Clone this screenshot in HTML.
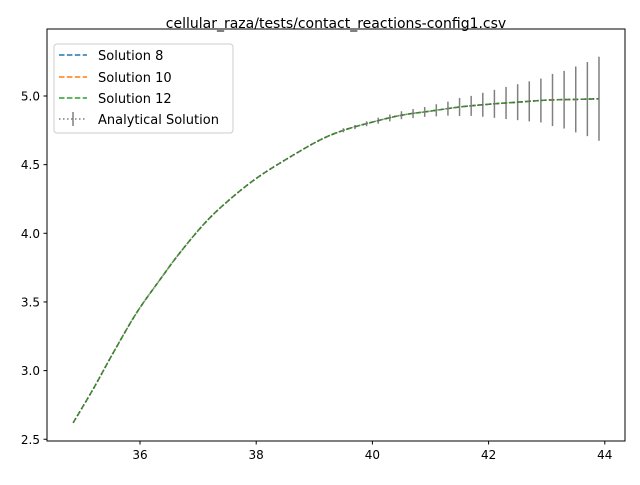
<!DOCTYPE html>
<html><head><meta charset="utf-8"><style>
body{margin:0;background:#fff}
svg{font-family:"DejaVu Sans","Liberation Sans",sans-serif}
</style></head><body>
<svg id="chart" width="640" height="480" xmlns="http://www.w3.org/2000/svg">
<rect width="640" height="480" fill="#fff"/>
<text x="336" y="28" font-size="14" text-anchor="middle">cellular_raza/tests/contact_reactions-config1.csv</text>
<g id="plot"></g>
<rect x="47" y="29" width="578" height="412" fill="none" stroke="#000" stroke-width="1"/>
<g>
<rect x="54" y="44" width="179" height="89" rx="3" fill="#fff" fill-opacity="0.8" stroke="#ccc"/>
<line x1="59" y1="55" x2="87" y2="55" stroke="#1f77b4" stroke-width="1.5" stroke-dasharray="5.5,2.4"/>
<text x="98" y="60" font-size="13">Solution 8</text>
<line x1="59" y1="77" x2="87" y2="77" stroke="#ff7f0e" stroke-width="1.5" stroke-dasharray="5.5,2.4"/>
<text x="98" y="82" font-size="13">Solution 10</text>
<line x1="59" y1="98" x2="87" y2="98" stroke="#2ca02c" stroke-width="1.5" stroke-dasharray="5.5,2.4"/>
<text x="98" y="103" font-size="13">Solution 12</text>
<line x1="59" y1="119" x2="87" y2="119" stroke="#808080" stroke-width="1.5" stroke-dasharray="1.5,2.5"/>
<line x1="73" y1="112" x2="73" y2="126" stroke="#808080" stroke-width="1.5"/>
<text x="98" y="124" font-size="13">Analytical Solution</text>
</g>
</svg>
<script>
const xVals=[34.85,35.2,35.54,35.94,36.34,36.69,37.15,37.61,38.07,38.64,39.1,39.5,40.0,40.5,41.0,41.5,42.0,42.5,43.0,43.5,43.9];
const yVals=[2.62,2.87,3.13,3.42,3.66,3.86,4.09,4.27,4.42,4.57,4.68,4.75,4.81,4.86,4.89,4.92,4.94,4.955,4.97,4.975,4.98];
const errX=[39.5,39.7,39.9,40.1,40.3,40.5,40.7,40.9,41.1,41.3,41.5,41.7,41.9,42.1,42.3,42.5,42.7,42.9,43.1,43.3,43.5,43.7,43.9];
const errSize=[0.015,0.015,0.018,0.022,0.025,0.029,0.033,0.036,0.044,0.051,0.066,0.073,0.087,0.102,0.117,0.131,0.146,0.16,0.19,0.21,0.24,0.27,0.306];
const xTicks=[36,38,40,42,44];
const yTicks=[2.5,3.0,3.5,4.0,4.5,5.0];
const NS="http://www.w3.org/2000/svg";
const X=v=>140+(v-36)*58.1;
const Y=v=>96+(5-v)*137.3;
function interp(x){for(let i=0;i<xVals.length-1;i++){if(x<=xVals[i+1]){const t=(x-xVals[i])/(xVals[i+1]-xVals[i]);return yVals[i]+t*(yVals[i+1]-yVals[i]);}}return yVals[yVals.length-1];}
function pathD(){let p0=xVals.map((x,i)=>[X(x),Y(yVals[i])]);let d="M"+p0[0][0]+","+p0[0][1];
for(let i=0;i<p0.length-1;i++){const a=p0[Math.max(i-1,0)],b=p0[i],c=p0[i+1],e=p0[Math.min(i+2,p0.length-1)];
d+=` C${b[0]+(c[0]-a[0])/6},${b[1]+(c[1]-a[1])/6} ${c[0]-(e[0]-b[0])/6},${c[1]-(e[1]-b[1])/6} ${c[0]},${c[1]}`;}return d;}
const g=document.getElementById('plot');
function mk(tag,attrs){const e=document.createElementNS(NS,tag);for(const k in attrs)e.setAttribute(k,attrs[k]);g.appendChild(e);return e;}
xTicks.forEach(t=>{const l=mk('line',{x1:X(t),x2:X(t),y1:441,y2:444.5,stroke:'#000'});


const tx=mk('text',{x:X(t),y:459,'font-size':12,'text-anchor':'middle'});tx.textContent=t;

});
yTicks.forEach(t=>{const l=mk('line',{x1:43.5,x2:47,y1:Y(t),y2:Y(t),stroke:'#000'});


const tx=mk('text',{x:40,y:Y(t)+4.5,'font-size':12,'text-anchor':'end'});tx.textContent=t.toFixed(1);

});
const d=pathD();
[['#1f77b4','solution-8-line'],['#ff7f0e','solution-10-line'],['#2ca02c','solution-12-line']].forEach(([c,n])=>{
const p=mk('path',{d:d,fill:'none',stroke:c,'stroke-width':1.5,'stroke-dasharray':'5.5,2.4'});

});
errX.forEach((x,i)=>{const y=interp(x);const l=mk('line',{x1:X(x),x2:X(x),y1:Y(y-errSize[i]),y2:Y(y+errSize[i]),stroke:'#808080','stroke-width':1.5});

});
const a=mk('path',{d:d,fill:'none',stroke:'#555','stroke-width':1.5,'stroke-dasharray':'1.5,2.5','stroke-opacity':0.8});


</script>
</body></html>
